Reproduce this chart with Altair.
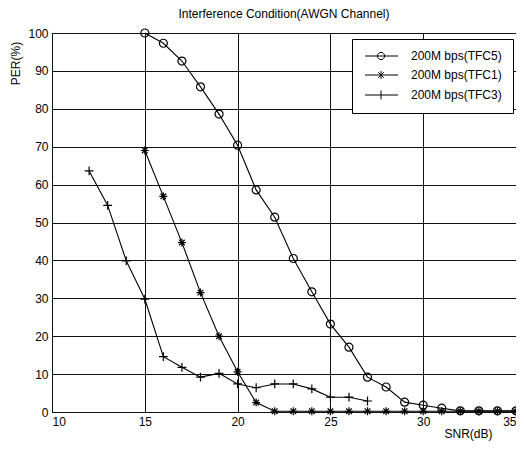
import altair as alt
import pandas as pd

chart_title = "Interference Condition(AWGN Channel)"
series_names = ["200M bps(TFC5)", "200M bps(TFC1)", "200M bps(TFC3)"]

snr_tfc5 = list(range(15, 36))
per_tfc5 = [100, 97.3, 92.6, 85.8, 78.6, 70.4, 58.6, 51.4, 40.5, 31.7, 23.2,
            17.1, 9.2, 6.6, 2.6, 1.8, 1.0, 0.3, 0.3, 0.3, 0.3]

snr_tfc1 = list(range(15, 36))
per_tfc1 = [69.0, 56.9, 44.7, 31.5, 20.0, 10.6, 2.5, 0.2, 0.2, 0.2, 0.2,
            0.2, 0.2, 0.2, 0.2, 0.2, 0.2, 0.2, 0.2, 0.2, 0.2]

snr_tfc3 = list(range(12, 28))
per_tfc3 = [63.6, 54.5, 39.9, 29.8, 14.6, 11.8, 9.2, 10.2, 7.4, 6.4, 7.4,
            7.4, 6.1, 3.9, 3.9, 2.9]

x_ticks = [10, 15, 20, 25, 30, 35]
y_ticks = list(range(0, 101, 10))

rows = []
for name, xs, ys in zip(series_names, [snr_tfc5, snr_tfc1, snr_tfc3],
                        [per_tfc5, per_tfc1, per_tfc3]):
    for xv, yv in zip(xs, ys):
        rows.append({"snr": xv, "per": yv, "series": name})
df = pd.DataFrame(rows)

marker_paths = [
    "circle",
    "M-1,0L1,0M0,-1L0,1M-0.7,-0.7L0.7,0.7M-0.7,0.7L0.7,-0.7",
    "M-1.1,0L1.1,0M0,-1.1L0,1.1",
]
legend_paths = [
    "M-1,0L7.25,0M3.9,0A0.9,0.9 0 1,1 2.1,0A0.9,0.9 0 1,1 3.9,0",
    "M-1,0L7.25,0M3,-1L3,1M2.3,-0.7L3.7,0.7M2.3,0.7L3.7,-0.7",
    "M-1,0L7.25,0M3,-1.1L3,1.1",
]

FONT = "Liberation Sans"

x_enc = alt.X(
    "snr:Q",
    scale=alt.Scale(domain=[10, 35], nice=False, zero=False),
    axis=alt.Axis(values=x_ticks, title="SNR(dB)", titleX=416, titleY=21,
                  titleAlign="center", titleBaseline="middle"),
)
y_enc = alt.Y(
    "per:Q",
    scale=alt.Scale(domain=[0, 100], nice=False),
    axis=alt.Axis(values=y_ticks, title="PER(%)", titleX=-37, titleY=30,
                  titleAngle=270, titleAlign="center", titleBaseline="middle"),
)

lines = alt.Chart(df).mark_line(color="black", strokeWidth=1.1).encode(
    x=x_enc, y=y_enc, detail="series:N"
)

points = alt.Chart(df).mark_point(filled=False, color="black", strokeWidth=1.2, size=64, opacity=1).encode(
    x=x_enc, y=y_enc,
    shape=alt.Shape("series:N", scale=alt.Scale(domain=series_names, range=marker_paths), legend=None),
)

legend_layer = alt.Chart(df).transform_filter("datum.snr < 0").mark_point(
    filled=False, color="black", strokeWidth=1
).encode(
    x=x_enc, y=y_enc,
    shape=alt.Shape(
        "series:N",
        scale=alt.Scale(domain=series_names, range=legend_paths),
        legend=alt.Legend(
            orient="none", legendX=300, legendY=6, title=None, padding=11,
            strokeColor="black", fillColor="white", symbolSize=64,
            symbolStrokeWidth=1, symbolStrokeColor="black", symbolOpacity=1,
            labelOffset=36, labelFontSize=12, labelFont=FONT, labelColor="black",
            rowPadding=7,
        ),
    ),
)

chart = alt.layer(lines, points, legend_layer).resolve_scale(shape="independent").properties(
    width=464, height=379,
    title=alt.Title(chart_title, fontSize=12, fontWeight="normal", font=FONT,
                    color="black", anchor="middle", offset=6),
    autosize=alt.AutoSizeParams(type="none"),
    padding={"left": 44, "top": 25, "right": 0, "bottom": 32},
).configure_view(stroke="black", strokeWidth=1).configure_axis(
    grid=True, gridColor="#111111", gridWidth=1, gridOpacity=1, domain=False,
    ticks=False, labelFontSize=12, labelFont=FONT, labelColor="black", labelPadding=4,
    titleFontSize=12, titleFont=FONT, titleFontWeight="normal", titleColor="black",
)

chart.save("out.html", embed_options={"renderer": "svg", "actions": False})
